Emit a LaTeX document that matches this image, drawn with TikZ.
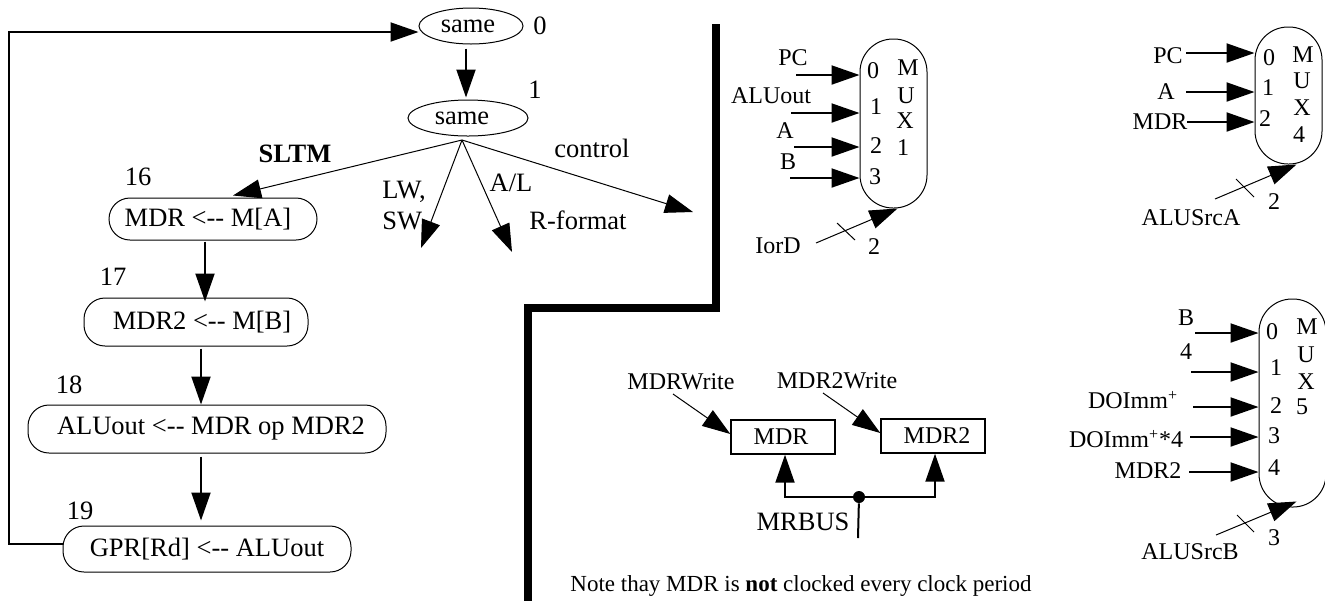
\documentclass[tikz,border=0pt]{standalone}
\usepackage{fontspec}
\setmainfont{Liberation Serif}
\usetikzlibrary{shapes.geometric,arrows.meta}
\tikzset{
	big/.style={inner sep=0pt,font=\fontsize{13.25}{15}\selectfont},
	small/.style={inner sep=0pt,font=\fontsize{12}{14}\selectfont},
	state/.style={big,draw,line width=0.5pt,rounded corners=10.5pt,minimum height=#1},
	oval/.style={big,draw,line width=0.5pt,ellipse,minimum height=18pt},
	muxbox/.style={draw,line width=0.5pt,rounded corners=16.5pt,minimum width=33.5pt,minimum height=#1,inner sep=0pt},
	reg/.style={small,draw,line width=0.7pt,minimum width=52pt,minimum height=17pt},
	sig/.style={line width=1pt,-{Triangle[length=14pt,width=9.5pt]}},
	ctl/.style={line width=0.5pt,-{Triangle[length=14pt,width=9.5pt]}},
	tick/.style={line width=0.5pt}
}
\begin{document}
\begin{tikzpicture}[x=0.5pt,y=-0.5pt]
\useasboundingbox (0,0) rectangle (1325,601);
\node[oval,minimum width=52pt](same0) at (471,26){same\hspace{3pt}\null};
\node[oval,minimum width=60pt](same1) at (468,118){same\hspace{6pt}\null};
\node[state=21pt,minimum width=104pt](box16) at (213,219){MDR <-{}- M[A]\hspace{5pt}\null};
\node[state=24pt,minimum width=112pt](box17) at (196,322){\hspace{6pt}MDR2 <-{}- M[B]};
\node[state=24pt,minimum width=179pt](box18) at (207,429){\hspace{4pt}ALUout <-{}- MDR op MDR2};
\node[state=23pt,minimum width=144pt](box19) at (207,549){GPR[Rd] <-{}- ALUout};
\node[big](n0) at (540,26){0};
\node[big](n1) at (535,90){1};
\node[big](n16) at (138,177){16};
\node[big](n17) at (113,277){17};
\node[big](n18) at (69,385){18};
\node[big](n19) at (80,511){19};
\node[big,font=\fontsize{13.25}{15}\selectfont\bfseries](sltm) at (295,154){SLTM};
\node[big,anchor=west](lw) at (382,192){LW,};
\node[big,anchor=west](sw) at (382,221){SW};
\node[big](al) at (511,183){A/L};
\node[big](rfmt) at (578,220){R-format};
\node[big](ctrl) at (592,148){control};
\coordinate (fork) at (462,140);
\coordinate (lwend) at (421,248);
\coordinate (alend) at (512,252);
\coordinate (ctrlend) at (693,212);
\coordinate (back1) at (9,544);
\coordinate (back2) at (9,32);
\draw[sig] ([xshift=-2.5pt,yshift=-2pt]same0.south) -- ([xshift=-1pt,yshift=1pt]same1.north);
\draw[ctl] (fork) -- ([xshift=10pt,yshift=1pt]box16.north);
\draw[ctl] (fork) -- (lwend);
\draw[ctl] (fork) -- (alend);
\draw[ctl] (fork) -- (ctrlend);
\draw[sig] ([xshift=-4pt,yshift=-0.5pt]box16.south) -- ([xshift=4.5pt,yshift=-2pt]box17.north);
\draw[sig] ([xshift=2.5pt,yshift=-1pt]box17.south) -- ([xshift=-3pt]box18.north);
\draw[sig] ([xshift=-3pt,yshift=-1.5pt]box18.south) -- ([xshift=-3pt,yshift=2.5pt]box19.north);
\draw[sig] ([yshift=2.5pt]box19.west) -- (back1) -- (back2) -- ([yshift=-3pt]same0.west);

\draw[line width=4pt] (716,24) -- (716,308) -- (528,308) -- (528,601);

\node[muxbox=84.5pt](mux1) at (893.5,123.5){};
\node[small](m1a) at (908,68){M};
\node[small](m1b) at (906,96){U};
\node[small](m1c) at (905,121){X};
\node[small](m1d) at (903,148){1};
\node[small](p10) at (873,71){0};
\node[small](p11) at (876,107){1};
\node[small](p12) at (876,146){2};
\node[small](p13) at (875,177){3};
\node[small](pc1) at (793,58){PC};
\node[small](aluout1) at (771,96){ALUout};
\node[small](a1) at (785,131){A};
\node[small](b1) at (788,162){B};
\node[small](iord) at (778,246){IorD};
\node[small](w1) at (874,247){2};
\coordinate (pc1s) at (796,75);
\coordinate (alu1s) at (791,113);
\coordinate (a1s) at (794,147);
\coordinate (b1s) at (790,178);
\coordinate (iords) at (816,243);
\coordinate (tk1a) at (837,223);
\coordinate (tk1b) at (855,240);
\draw[sig] (pc1s) -- (pc1s -| mux1.west);
\draw[sig] (alu1s) -- (alu1s -| mux1.west);
\draw[sig] (a1s) -- (a1s -| mux1.west);
\draw[sig] (b1s) -- (b1s -| mux1.west);
\draw[ctl] (iords) -- ([xshift=2pt]mux1.south);
\draw[tick] (tk1a) -- (tk1b);

\node[muxbox=68.5pt](mux4) at (1288.5,95.5){};
\node[small](m4a) at (1303,55){M};
\node[small](m4b) at (1302,81){U};
\node[small](m4c) at (1302,108){X};
\node[small](m4d) at (1299,135){4};
\node[small](p40) at (1269,58){0};
\node[small](p41) at (1268,88){1};
\node[small](p42) at (1265,119){2};
\node[small](pc4) at (1168,56){PC};
\node[small](a4) at (1166,92){A};
\node[small](mdr4) at (1160,122){MDR};
\node[small](srca) at (1191,218){ALUSrcA};
\node[small](w4) at (1274,202){2};
\coordinate (pc4s) at (1186,53);
\coordinate (a4s) at (1186,92);
\coordinate (mdr4s) at (1187,122);
\coordinate (srcas) at (1215,199);
\coordinate (tk4a) at (1236,179);
\coordinate (tk4b) at (1254,197);
\draw[sig] (pc4s) -- (pc4s -| mux4.west);
\draw[sig] (a4s) -- (a4s -| mux4.west);
\draw[sig] (mdr4s) -- (mdr4s -| mux4.west);
\draw[ctl] (srcas) -- ([xshift=4pt]mux4.south);
\draw[tick] (tk4a) -- (tk4b);

\node[muxbox=104pt](mux5) at (1292.5,403){};
\node[small](m5a) at (1307,327){M};
\node[small](m5b) at (1306,355){U};
\node[small](m5c) at (1306,382){X};
\node[small](m5d) at (1302,407){5};
\node[small](p50) at (1272,332){0};
\node[small](p51) at (1276,368){1};
\node[small](p52) at (1276,406){2};
\node[small](p53) at (1274,436){3};
\node[small](p54) at (1274,468){4};
\node[small](b5) at (1186,318){B};
\node[small](four5) at (1186,352){4};
\node[small](doimm) at (1133,400){DOImm\textsuperscript{+}};
\node[small](doimmf) at (1126,439){DOImm\textsuperscript{+}*4};
\node[small](mdr5) at (1148,471){MDR2};
\node[small](srcb) at (1190,552){ALUSrcB};
\node[small](w5) at (1274,538){3};
\coordinate (b5s) at (1195,333);
\coordinate (f5s) at (1191,372);
\coordinate (d5s) at (1193,407);
\coordinate (e5s) at (1190,437);
\coordinate (mdr5s) at (1189,472);
\coordinate (srcbs) at (1216,535);
\coordinate (tk5a) at (1237,515);
\coordinate (tk5b) at (1254,532);
\draw[sig] (b5s) -- (b5s -| mux5.west);
\draw[sig] (f5s) -- (f5s -| mux5.west);
\draw[sig] (d5s) -- (d5s -| mux5.west);
\draw[sig] (e5s) -- (e5s -| mux5.west);
\draw[sig] (mdr5s) -- (mdr5s -| mux5.west);
\draw[ctl] (srcbs) -- ([xshift=2pt,yshift=3pt]mux5.south);
\draw[tick] (tk5a) -- (tk5b);

\node[reg](mdr) at (783,437){MDR\hspace{2pt}\null};
\node[reg](mdr2) at (933,436){\hspace{4pt}MDR2};
\node[small](mdrw) at (681,382){MDRWrite};
\node[small](mdr2w) at (837,381){MDR2Write};
\node[big](mrbus) at (803,522){MRBUS};
\node[circle,fill,inner sep=0pt,minimum size=6pt](dot) at (859,497){};
\coordinate (mdrws) at (673,394);
\coordinate (mdr2ws) at (823,393);
\coordinate (busl) at (785,497);
\coordinate (busr) at (935,497);
\coordinate (busend) at (858,538);
\draw[ctl] (mdrws) -- ([yshift=1.5pt]mdr.west);
\draw[ctl] (mdr2ws) -- ([yshift=1.5pt]mdr2.west);
\draw[line width=1pt] (dot) -- (busend);
\draw[sig] (dot) -- (busl) -- (busl |- mdr.south);
\draw[sig] (dot) -- (busr) -- (busr |- mdr2.south);
\node[small,anchor=west,font=\fontsize{11.5}{14}\selectfont](note) at (570,586){Note thay MDR is \textbf{not} clocked every clock period};
\end{tikzpicture}
\end{document}
